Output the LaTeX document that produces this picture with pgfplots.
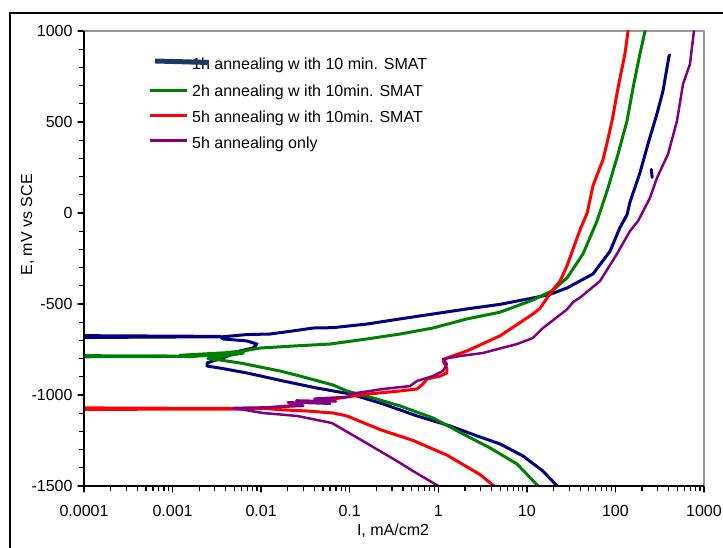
\documentclass[border=0pt]{standalone}
\usepackage{fontspec}
\setmainfont{Liberation Sans}
\usepackage{pgfplots}
\pgfplotsset{compat=1.18}
\definecolor{cnavy}{RGB}{0,0,128}
\definecolor{cgreen}{RGB}{0,128,0}
\definecolor{cred}{RGB}{255,0,0}
\definecolor{cpurple}{RGB}{128,0,128}
\definecolor{clegnavy}{RGB}{31,56,100}
\definecolor{cframe}{RGB}{150,150,150}
\begin{document}
\begin{tikzpicture}[font=\fontsize{16}{19}\selectfont]
\useasboundingbox (0pt,0pt) rectangle (723pt,548pt);
\draw[line width=1.4pt] (10pt,-20pt) -- (10pt,535pt) -- (740pt,535pt);
\begin{axis}[
  at={(84pt,62pt)}, anchor=south west, scale only axis,
  width=620pt, height=455pt,
  xmode=log, xmin=1e-4, xmax=1000, ymin=-1500, ymax=1000,
  xtick={1e-4,1e-3,0.01,0.1,1,10,100,1000},
  xticklabels={0.0001,0.001,0.01,0.1,1,10,100,1000},
  minor xtick={2e-4,3e-4,4e-4,5e-4,6e-4,7e-4,8e-4,9e-4,
    2e-3,3e-3,4e-3,5e-3,6e-3,7e-3,8e-3,9e-3,
    0.02,0.03,0.04,0.05,0.06,0.07,0.08,0.09,
    0.2,0.3,0.4,0.5,0.6,0.7,0.8,0.9,
    2,3,4,5,6,7,8,9,20,30,40,50,60,70,80,90,
    200,300,400,500,600,700,800,900},
  ytick={-1500,-1000,-500,0,500,1000},
  yticklabels={-1500,-1000,-500,0,500,1000},
  minor ytick={-1400,-1300,-1200,-1100,-900,-800,-700,-600,-400,-300,-200,-100,100,200,300,400,600,700,800,900},
  tick align=outside, xtick pos=bottom, ytick pos=left,
  major tick length=6pt, minor tick length=4.5pt,
  tick style={black, line width=1.3pt},
  minor tick style={black, line width=1.2pt},
  axis line style={cframe, line width=1.3pt},
  /pgf/number format/assume math mode=true,
  tick label style={font=\fontsize{16}{19}\selectfont},
  xticklabel style={yshift=-10pt},
  yticklabel style={xshift=-2pt},
  clip mode=individual,
  line join=round, line cap=round,
]
% 1h annealing with 10 min. SMAT
\addplot[cnavy, line width=3pt] coordinates {
(22,-1500)(15.2,-1418)(9.05,-1335)(4.98,-1269)(2.74,-1225)(1.36,-1170)
(0.575,-1115)(0.238,-1049)(0.101,-994)(0.0427,-962)(0.0177,-923)(0.0069,-879)
(0.00343,-852)(0.00245,-841)(0.00245,-824)(0.00286,-813)(0.0037,-797)
(0.00577,-758)(0.0081,-742)(0.0090,-720)(0.0069,-703)(0.0037,-692)(0.00343,-678)
(0.0001,-674)(0.0001,-684)(0.0037,-680)(0.0069,-668)(0.0126,-665)(0.0229,-648)
(0.0385,-632)(0.065,-630)(0.157,-610)(0.37,-582)(0.87,-555)(2.11,-527)
(4.97,-502)(11.7,-467)(18,-448)(28.4,-412)(55.8,-335)(86.9,-210)(112,-82)
(135,-10)(146,60)(189,220)(233,379)(294,544)(344,670)(382,797)(403,863)(412,868)
};
\addplot[cnavy, line width=3pt] coordinates {(254,240)(260,195)};
% 2h annealing with 10min. SMAT
\addplot[cgreen, line width=3pt] coordinates {
(13.4,-1500)(7.74,-1379)(3.84,-1291)(1.90,-1214)(0.87,-1126)(0.37,-1060)
(0.183,-1016)(0.093,-978)(0.0647,-945)(0.0275,-896)(0.0163,-868)(0.00577,-824)
(0.00345,-808)(0.0025,-800)(0.0063,-770)(0.0012,-782)(0.005,-765)(0.0015,-790)
(0.004,-775)(0.0012,-786)(0.0001,-784)(0.0001,-790)(0.0015,-788)(0.0063,-758)
(0.0097,-742)(0.0229,-731)(0.060,-720)(0.157,-692)(0.37,-665)(0.87,-632)
(2.11,-582)(4.98,-545)(11.7,-478)(19.2,-428)(28.4,-357)(43,-225)(62,-44)
(82.4,137)(107,324)(135,505)(158,687)(189,874)(216,1000)
};
% 5h annealing with 10min. SMAT
\addplot[cred, line width=3pt] coordinates {
(4.26,-1500)(2.96,-1437)(1.25,-1330)(0.52,-1250)(0.22,-1190)(0.093,-1115)
(0.065,-1099)(0.033,-1088)(0.018,-1082)(0.0116,-1075)
(0.0001,-1071)(0.0001,-1079)(0.006,-1077)(0.0116,-1070)(0.02,-1060)
(0.0275,-1044)(0.065,-1022)(0.157,-995)(0.37,-978)(0.575,-967)(0.67,-940)
(0.746,-912)(1.045,-896)(1.25,-879)(1.25,-852)(1.13,-813)(1.25,-797)
(2.11,-758)(4.98,-675)(11.7,-555)(14,-525)(19.2,-428)(23.7,-374)(28.4,-290)
(40,-90)(48,0)(55.8,150)(72,290)(80,380)(91.5,505)(107,687)(128,874)(139,1000)
};
% 5h annealing only
\addplot[cpurple, line width=2.5pt] coordinates {
(1,-1500)(0.519,-1418)(0.342,-1363)(0.141,-1253)(0.063,-1154)(0.0254,-1115)
(0.0105,-1099)(0.0048,-1071)
(0.012,-1068)(0.03,-1060)(0.02,-1040)(0.06,-1048)(0.025,-1030)(0.07,-1035)
(0.04,-1020)(0.1,-1010)(0.1,-995)(0.238,-967)(0.48,-951)(0.575,-923)
(0.87,-896)(1.13,-868)(1.25,-830)(1.13,-802)(1.76,-786)(3.2,-769)
(7.74,-720)(11.7,-687)(15.2,-632)(28.4,-530)(33.2,-490)(39.8,-465)(67,-374)
(104,-225)(146,-99)(180,-44)(245,82)(294,192)(393,324)(495,505)(580,709)
(695,819)(771,1000)
};
\end{axis}
\draw[black, line width=1.4pt] (84pt,517.3pt) -- (84pt,62pt) -- (704pt,62pt);
% axis titles
\node[rotate=90, anchor=base] at (32pt,323pt) {E, mV vs SCE};
\node[anchor=base] at (393pt,12pt) {I, mA/cm2};
% legend
\node[anchor=base west, inner sep=0pt] at (192pt,478pt) {1h annealing w ith 10 min. SMAT};
\draw[clegnavy, line width=5pt] (155pt,487pt) -- (209pt,485.5pt);
\draw[cgreen, line width=3pt] (150pt,457.3pt) -- (187pt,457.3pt);
\node[anchor=base west, inner sep=0pt] at (192pt,451.5pt) {2h annealing w ith 10min. SMAT};
\draw[cred, line width=3pt] (150pt,432pt) -- (187pt,432pt);
\node[anchor=base west, inner sep=0pt] at (192pt,425pt) {5h annealing w ith 10min. SMAT};
\draw[cpurple, line width=3pt] (150pt,407pt) -- (187pt,407pt);
\node[anchor=base west, inner sep=0pt] at (192pt,399.5pt) {5h annealing only};
\end{tikzpicture}
\end{document}
